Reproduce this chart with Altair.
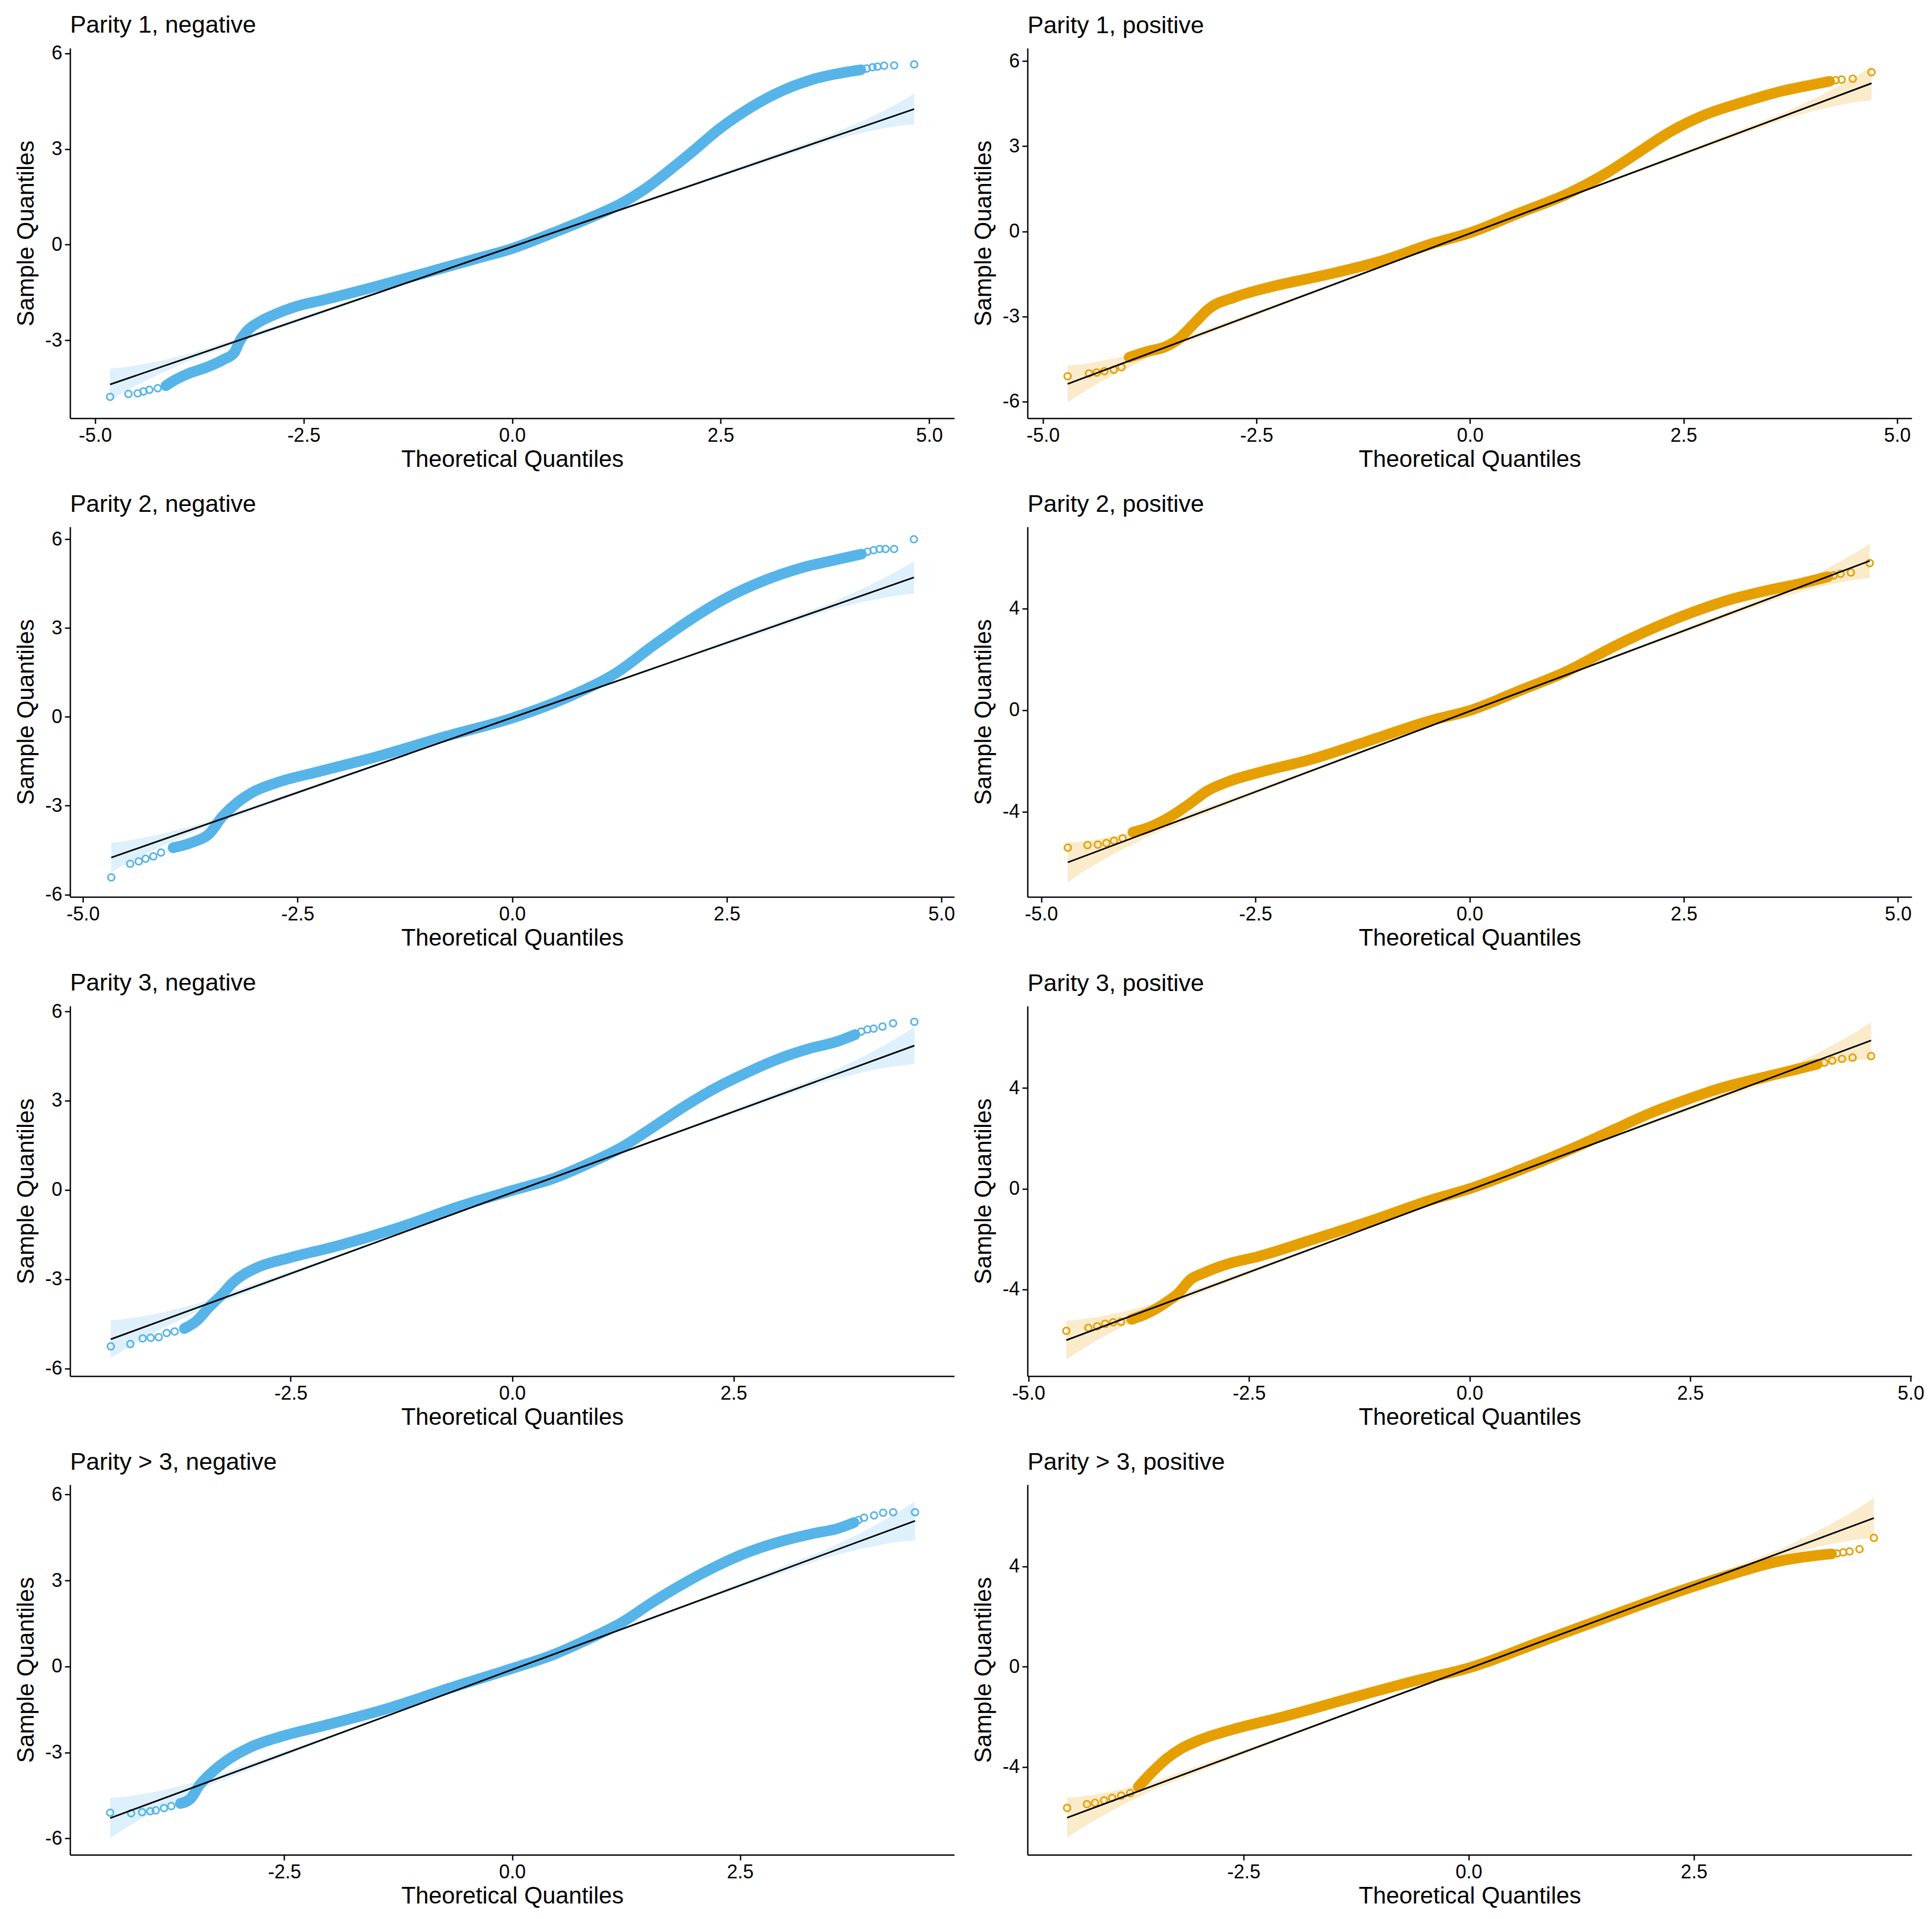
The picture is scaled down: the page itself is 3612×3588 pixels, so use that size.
import altair as alt
import pandas as pd

FONT = "Liberation Sans"
BLUE = "#56B4E9"
ORANGE = "#E69F00"
BLUE_BAND = "#DDF0FB"
ORANGE_BAND = "#FAEBCB"
MINUS_FIX = "replace(datum.label, '\u2212', '-')"

TITLES = [
    "Parity 1, negative", "Parity 1, positive",
    "Parity 2, negative", "Parity 2, positive",
    "Parity 3, negative", "Parity 3, positive",
    "Parity > 3, negative", "Parity > 3, positive",
]

# ---------------- Parity 1, negative ----------------
P1N_CURVE_X = [-4.15, -4.10, -3.89, -3.67, -3.46, -3.33, -3.27, -3.18, -3.03, -2.82, -2.50, -2.31, -1.72, -0.98,
               -0.39, 0.0, 0.49, 0.94, 1.30, 1.60, 1.89, 2.19, 2.48, 2.78, 3.15, 3.59, 4.03, 4.18]
P1N_CURVE_Y = [-4.42, -4.33, -4.05, -3.85, -3.60, -3.38, -3.04, -2.71, -2.42, -2.16, -1.87, -1.76, -1.37, -0.84,
               -0.41, -0.12, 0.37, 0.85, 1.28, 1.76, 2.34, 2.98, 3.62, 4.17, 4.72, 5.17, 5.42, 5.48]
P1N_TAIL_X = [-4.82, -4.60, -4.49, -4.42, -4.35, -4.25, 4.25, 4.32, 4.38, 4.46, 4.58, 4.82]
P1N_TAIL_Y = [-4.77, -4.68, -4.66, -4.60, -4.55, -4.50, 5.52, 5.56, 5.58, 5.61, 5.62, 5.65]
P1N_LINE_X = [-4.82, 4.82]
P1N_LINE_Y = [-4.38, 4.25]
P1N_BAND_X = [-4.82, -4.67, -4.47, -4.22, -3.82, -2.0, 0.0, 2.0, 3.82, 4.22, 4.47, 4.67, 4.82]
P1N_BAND_HW = [0.50, 0.40, 0.30, 0.20, 0.10, 0.05, 0.03, 0.05, 0.10, 0.19, 0.28, 0.38, 0.48]

# ---------------- Parity 1, positive ----------------
P1P_CURVE_X = [-3.99, -3.77, -3.56, -3.41, -3.23, -3.05, -2.76, -2.32, -1.74, -1.02, -0.44, 0.0, 0.58, 1.16,
               1.60, 1.96, 2.32, 2.76, 3.19, 3.63, 4.06, 4.21]
P1P_CURVE_Y = [-4.44, -4.23, -4.06, -3.79, -3.25, -2.71, -2.33, -1.95, -1.57, -1.03, -0.43, -0.05, 0.65, 1.35,
               2.06, 2.76, 3.47, 4.12, 4.55, 4.93, 5.20, 5.29]
P1P_TAIL_X = [-4.71, -4.46, -4.37, -4.28, -4.17, -4.08, 4.28, 4.35, 4.48, 4.70]
P1P_TAIL_Y = [-5.11, -5.01, -4.98, -4.93, -4.88, -4.79, 5.33, 5.35, 5.38, 5.61]
P1P_LINE_X = [-4.71, 4.70]
P1P_LINE_Y = [-5.38, 5.22]
P1P_BAND_X = [-4.71, -4.56, -4.36, -4.11, -3.71, -2.0, 0.0, 2.0, 3.70, 4.10, 4.35, 4.55, 4.70]
P1P_BAND_HW = [0.65, 0.52, 0.39, 0.26, 0.13, 0.05, 0.03, 0.05, 0.12, 0.24, 0.36, 0.48, 0.60]

# ---------------- Parity 2, negative ----------------
P2N_CURVE_X = [-3.95, -3.74, -3.52, -3.38, -3.23, -3.02, -2.73, -2.23, -1.51, -0.79, 0.0, 0.65, 1.22, 1.65,
               2.08, 2.51, 2.95, 3.38, 3.81, 4.07]
P2N_CURVE_Y = [-4.42, -4.25, -3.92, -3.38, -2.96, -2.54, -2.21, -1.83, -1.29, -0.67, -0.04, 0.67, 1.50, 2.42,
               3.29, 4.04, 4.62, 5.04, 5.33, 5.50]
P2N_TAIL_X = [-4.67, -4.45, -4.35, -4.27, -4.18, -4.09, 4.14, 4.21, 4.28, 4.35, 4.45, 4.68]
P2N_TAIL_Y = [-5.42, -4.96, -4.88, -4.79, -4.71, -4.58, 5.58, 5.63, 5.67, 5.67, 5.67, 6.00]
P2N_LINE_X = [-4.67, 4.68]
P2N_LINE_Y = [-4.75, 4.71]
P2N_BAND_X = [-4.67, -4.52, -4.32, -4.07, -3.67, -2.0, 0.0, 2.0, 3.68, 4.08, 4.33, 4.53, 4.68]
P2N_BAND_HW = [0.50, 0.40, 0.30, 0.20, 0.10, 0.05, 0.03, 0.05, 0.11, 0.22, 0.33, 0.44, 0.55]

# ---------------- Parity 2, positive ----------------
P2P_CURVE_X = [-3.93, -3.75, -3.53, -3.28, -3.06, -2.81, -2.45, -1.87, -1.15, -0.43, 0.0, 0.58, 1.15, 1.66,
               2.16, 2.60, 3.03, 3.46, 3.89, 4.18]
P2P_CURVE_Y = [-4.81, -4.63, -4.27, -3.72, -3.18, -2.81, -2.45, -1.96, -1.18, -0.39, -0.02, 0.76, 1.55, 2.46,
               3.25, 3.85, 4.34, 4.70, 5.01, 5.25]
P2P_TAIL_X = [-4.69, -4.46, -4.34, -4.24, -4.15, -4.05, 4.25, 4.33, 4.45, 4.67]
P2P_TAIL_Y = [-5.42, -5.32, -5.30, -5.24, -5.15, -5.05, 5.31, 5.37, 5.42, 5.79]
P2P_LINE_X = [-4.69, 4.67]
P2P_LINE_Y = [-6.00, 5.88]
P2P_BAND_X = [-4.69, -4.54, -4.34, -4.09, -3.69, -2.0, 0.0, 2.0, 3.67, 4.07, 4.32, 4.52, 4.67]
P2P_BAND_HW = [0.78, 0.62, 0.47, 0.31, 0.15, 0.06, 0.03, 0.06, 0.14, 0.27, 0.41, 0.54, 0.68]

# ---------------- Parity 3, negative ----------------
P3N_CURVE_X = [-3.70, -3.56, -3.42, -3.28, -3.15, -2.87, -2.52, -1.97, -1.27, -0.58, 0.0, 0.47, 0.88, 1.23,
               1.58, 1.92, 2.27, 2.62, 2.97, 3.38, 3.65, 3.87]
P3N_CURVE_Y = [-4.66, -4.40, -3.94, -3.53, -3.11, -2.60, -2.29, -1.88, -1.26, -0.54, -0.02, 0.39, 0.91, 1.42,
               2.09, 2.76, 3.38, 3.90, 4.36, 4.77, 4.97, 5.22]
P3N_TAIL_X = [-4.53, -4.31, -4.17, -4.08, -3.99, -3.90, -3.81, 3.94, 4.01, 4.08, 4.18, 4.30, 4.54]
P3N_TAIL_Y = [-5.26, -5.18, -4.99, -4.97, -4.95, -4.81, -4.76, 5.32, 5.39, 5.42, 5.49, 5.60, 5.65]
P3N_LINE_X = [-4.53, 4.54]
P3N_LINE_Y = [-5.02, 4.85]
P3N_BAND_X = [-4.53, -4.38, -4.18, -3.93, -3.53, -2.0, 0.0, 2.0, 3.54, 3.94, 4.19, 4.39, 4.54]
P3N_BAND_HW = [0.64, 0.51, 0.38, 0.26, 0.13, 0.05, 0.03, 0.05, 0.12, 0.25, 0.37, 0.50, 0.62]

# ---------------- Parity 3, positive ----------------
P3P_CURVE_X = [-3.83, -3.65, -3.44, -3.30, -3.16, -3.02, -2.74, -2.39, -1.83, -1.12, -0.42, 0.0, 0.56, 1.12,
               1.62, 2.04, 2.46, 2.88, 3.30, 3.65, 3.94]
P3P_CURVE_Y = [-5.19, -4.95, -4.52, -4.15, -3.60, -3.36, -2.99, -2.69, -2.08, -1.28, -0.43, 0.0, 0.73, 1.53,
               2.32, 2.99, 3.54, 4.03, 4.40, 4.70, 4.95]
P3P_TAIL_X = [-4.57, -4.32, -4.22, -4.13, -4.04, -3.95, 4.02, 4.11, 4.22, 4.34, 4.55]
P3P_TAIL_Y = [-5.65, -5.53, -5.47, -5.37, -5.31, -5.29, 5.01, 5.09, 5.16, 5.21, 5.27]
P3P_LINE_X = [-4.57, 4.55]
P3P_LINE_Y = [-6.02, 5.89]
P3P_BAND_X = [-4.57, -4.42, -4.22, -3.97, -3.57, -2.0, 0.0, 2.0, 3.55, 3.95, 4.20, 4.40, 4.55]
P3P_BAND_HW = [0.77, 0.62, 0.46, 0.31, 0.15, 0.06, 0.03, 0.06, 0.15, 0.29, 0.44, 0.58, 0.73]

# ---------------- Parity > 3, negative ----------------
P4N_CURVE_X = [-3.64, -3.53, -3.43, -3.30, -3.13, -2.86, -2.52, -2.05, -1.37, -0.70, 0.0, 0.45, 0.86, 1.20,
               1.53, 1.87, 2.21, 2.55, 2.89, 3.29, 3.58, 3.75]
P4N_CURVE_Y = [-4.78, -4.62, -4.14, -3.71, -3.28, -2.80, -2.43, -2.05, -1.47, -0.77, -0.07, 0.41, 0.99, 1.53,
               2.22, 2.87, 3.45, 3.94, 4.31, 4.63, 4.82, 5.02]
P4N_TAIL_X = [-4.41, -4.18, -4.06, -3.97, -3.91, -3.82, -3.74, 3.80, 3.86, 3.97, 4.07, 4.18, 4.42]
P4N_TAIL_Y = [-5.10, -5.12, -5.08, -5.05, -5.02, -4.94, -4.87, 5.11, 5.19, 5.27, 5.36, 5.38, 5.38]
P4N_LINE_X = [-4.41, 4.42]
P4N_LINE_Y = [-5.29, 5.08]
P4N_BAND_X = [-4.41, -4.26, -4.06, -3.81, -3.41, -2.0, 0.0, 2.0, 3.42, 3.82, 4.07, 4.27, 4.42]
P4N_BAND_HW = [0.70, 0.56, 0.42, 0.28, 0.14, 0.05, 0.03, 0.05, 0.14, 0.27, 0.41, 0.54, 0.68]

# ---------------- Parity > 3, positive ----------------
P4P_CURVE_X = [-3.67, -3.53, -3.35, -3.19, -2.98, -2.64, -2.09, -1.26, -0.58, 0.0, 0.80, 1.48, 2.17, 2.86,
               3.41, 3.82, 4.03]
P4P_CURVE_Y = [-4.79, -4.25, -3.65, -3.26, -2.91, -2.52, -2.02, -1.20, -0.55, -0.05, 1.00, 1.90, 2.80, 3.62,
               4.18, 4.42, 4.50]
P4P_TAIL_X = [-4.46, -4.24, -4.15, -4.05, -3.96, -3.86, -3.76, 4.09, 4.16, 4.23, 4.34, 4.50]
P4P_TAIL_Y = [-5.63, -5.48, -5.43, -5.33, -5.23, -5.14, -5.04, 4.52, 4.56, 4.60, 4.69, 5.14]
P4P_LINE_X = [-4.46, 4.50]
P4P_LINE_Y = [-6.02, 5.93]
P4P_BAND_X = [-4.46, -4.31, -4.11, -3.86, -3.46, -2.0, 0.0, 2.0, 3.50, 3.90, 4.15, 4.35, 4.50]
P4P_BAND_HW = [0.80, 0.64, 0.48, 0.32, 0.16, 0.06, 0.03, 0.06, 0.16, 0.32, 0.48, 0.64, 0.80]

# axis ranges and tick values per panel
X_DOMAINS = [[-5.30, 5.30], [-5.18, 5.17], [-5.15, 5.15], [-5.16, 5.16],
             [-4.99, 4.99], [-5.01, 5.01], [-4.85, 4.85], [-4.90, 4.92]]
Y_DOMAINS = [[-5.44, 6.16], [-6.59, 6.46], [-6.08, 6.42], [-7.36, 7.22],
             [-6.26, 6.18], [-7.45, 7.26], [-6.57, 6.34], [-7.50, 7.26]]
X_TICKS = [[-5, -2.5, 0, 2.5, 5], [-5, -2.5, 0, 2.5, 5], [-5, -2.5, 0, 2.5, 5], [-5, -2.5, 0, 2.5, 5],
           [-2.5, 0, 2.5], [-5, -2.5, 0, 2.5, 5], [-2.5, 0, 2.5], [-2.5, 0, 2.5]]
Y_TICKS = [[-3, 0, 3, 6], [-6, -3, 0, 3, 6], [-6, -3, 0, 3, 6], [-4, 0, 4],
           [-6, -3, 0, 3, 6], [-4, 0, 4], [-6, -3, 0, 3, 6], [-4, 0, 4]]
# title offsets: panels whose top tick label reaches above the plot sit closer
TITLE_OFFSETS = [-24, -17, -17, -17, -24, -17, -17, -17]

PANELS = [
    (P1N_CURVE_X, P1N_CURVE_Y, P1N_TAIL_X, P1N_TAIL_Y, P1N_LINE_X, P1N_LINE_Y, P1N_BAND_X, P1N_BAND_HW),
    (P1P_CURVE_X, P1P_CURVE_Y, P1P_TAIL_X, P1P_TAIL_Y, P1P_LINE_X, P1P_LINE_Y, P1P_BAND_X, P1P_BAND_HW),
    (P2N_CURVE_X, P2N_CURVE_Y, P2N_TAIL_X, P2N_TAIL_Y, P2N_LINE_X, P2N_LINE_Y, P2N_BAND_X, P2N_BAND_HW),
    (P2P_CURVE_X, P2P_CURVE_Y, P2P_TAIL_X, P2P_TAIL_Y, P2P_LINE_X, P2P_LINE_Y, P2P_BAND_X, P2P_BAND_HW),
    (P3N_CURVE_X, P3N_CURVE_Y, P3N_TAIL_X, P3N_TAIL_Y, P3N_LINE_X, P3N_LINE_Y, P3N_BAND_X, P3N_BAND_HW),
    (P3P_CURVE_X, P3P_CURVE_Y, P3P_TAIL_X, P3P_TAIL_Y, P3P_LINE_X, P3P_LINE_Y, P3P_BAND_X, P3P_BAND_HW),
    (P4N_CURVE_X, P4N_CURVE_Y, P4N_TAIL_X, P4N_TAIL_Y, P4N_LINE_X, P4N_LINE_Y, P4N_BAND_X, P4N_BAND_HW),
    (P4P_CURVE_X, P4P_CURVE_Y, P4P_TAIL_X, P4P_TAIL_Y, P4P_LINE_X, P4P_LINE_Y, P4P_BAND_X, P4P_BAND_HW),
]

W, H = 1653, 692


def make_panel(i):
    cx, cy, tx, ty, lx, ly, bx, bhw = PANELS[i]
    color = BLUE if i % 2 == 0 else ORANGE
    band_color = BLUE_BAND if i % 2 == 0 else ORANGE_BAND

    slope = (ly[1] - ly[0]) / (lx[1] - lx[0])
    mid = [ly[0] + slope * (x - lx[0]) for x in bx]
    band_df = pd.DataFrame({"x": bx,
                            "lo": [m - h for m, h in zip(mid, bhw)],
                            "hi": [m + h for m, h in zip(mid, bhw)]})
    curve_df = pd.DataFrame({"x": cx, "y": cy})
    tail_df = pd.DataFrame({"x": tx, "y": ty})
    line_df = pd.DataFrame({"x": lx, "y": ly})

    xs = alt.Scale(domain=X_DOMAINS[i], nice=False, zero=False)
    ys = alt.Scale(domain=Y_DOMAINS[i], nice=False, zero=False)
    xa = alt.Axis(values=X_TICKS[i], format=".1f", labelExpr=MINUS_FIX,
                  title="Theoretical Quantiles")
    ya = alt.Axis(values=Y_TICKS[i], format="d", labelExpr=MINUS_FIX,
                  title="Sample Quantiles")

    def X():
        return alt.X("x:Q", scale=xs, axis=xa)

    band = alt.Chart(band_df).mark_area(color=band_color, opacity=1, clip=True).encode(
        x=X(), y=alt.Y("lo:Q", scale=ys, axis=ya), y2="hi:Q")
    curve = alt.Chart(curve_df).mark_line(
        color=color, strokeWidth=20, strokeCap="round", strokeJoin="round",
        interpolate="monotone", clip=True).encode(
        x=X(), y=alt.Y("y:Q", scale=ys, axis=ya))
    tails = alt.Chart(tail_df).mark_point(
        shape="circle", filled=False, size=160, strokeWidth=3, color=color,
        opacity=1, clip=True).encode(
        x=X(), y=alt.Y("y:Q", scale=ys, axis=ya))
    line = alt.Chart(line_df).mark_line(color="black", strokeWidth=3, clip=True).encode(
        x=X(), y=alt.Y("y:Q", scale=ys, axis=ya))

    return alt.layer(band, curve, tails, line).properties(
        width=W, height=H,
        title=alt.TitleParams(text=TITLES[i], anchor="start", frame="group",
                              fontSize=45, font=FONT, fontWeight="normal",
                              color="black", baseline="alphabetic",
                              offset=TITLE_OFFSETS[i]))


chart = alt.concat(*[make_panel(i) for i in range(8)], columns=2,
                   spacing={"row": 40, "column": 32}).properties(
    padding={"left": 19, "top": 16, "right": 0, "bottom": 0}
).configure_axis(
    domainColor="black", domainWidth=2.5, tickColor="black", tickWidth=2.5, tickSize=10,
    labelFont=FONT, labelFontSize=36, labelColor="black", labelPadding=5, labelFlush=False,
    titleFont=FONT, titleFontSize=44, titleFontWeight="normal", titleColor="black", grid=False
).configure_axisX(titlePadding=5).configure_axisY(titlePadding=12).configure_view(stroke=None)

chart.save("out.html", embed_options={"renderer": "svg", "actions": False})
